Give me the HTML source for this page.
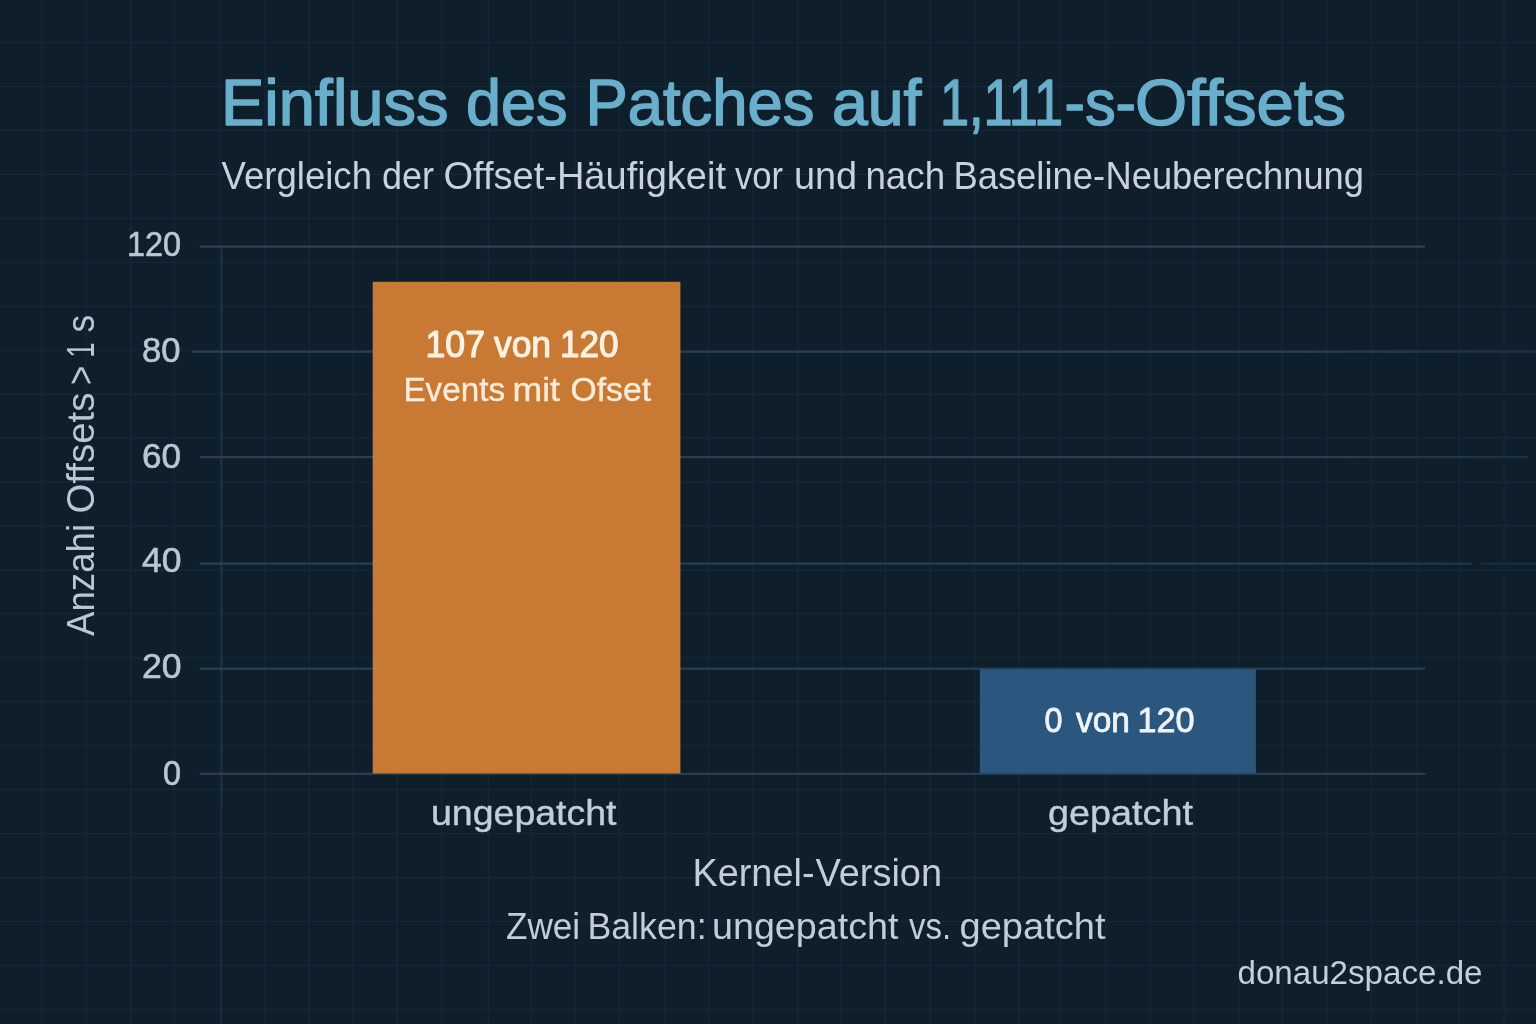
<!DOCTYPE html>
<html lang="de">
<head>
<meta charset="utf-8">
<title>Einfluss des Patches auf 1,111-s-Offsets</title>
<style>
  html, body { margin: 0; padding: 0; background: #0e1e2b; }
  body { width: 1536px; height: 1024px; overflow: hidden; }
  svg { display: block; will-change: transform; }
  text { font-family: "Liberation Sans", sans-serif; }
</style>
</head>
<body>
<svg width="1536" height="1024" viewBox="0 0 1536 1024">
  <!-- background + faint blueprint grid -->
  <rect id="bg" x="0" y="0" width="1536" height="1024" fill="#0e1e2b"/>
  <g id="bggrid" fill="#172939">
    <rect x="-3.2" y="0" width="1.2" height="1024"/>
    <rect x="41.1" y="0" width="1.2" height="1024"/>
    <rect x="85.4" y="0" width="1.2" height="1024"/>
    <rect x="130.1" y="0" width="1.2" height="1024"/>
    <rect x="173.4" y="0" width="1.2" height="1024"/>
    <rect x="219.4" y="0" width="1.2" height="1024"/>
    <rect x="264.4" y="0" width="1.2" height="1024"/>
    <rect x="308.7" y="0" width="1.2" height="1024"/>
    <rect x="352.7" y="0" width="1.2" height="1024"/>
    <rect x="396.7" y="0" width="1.2" height="1024"/>
    <rect x="441.1" y="0" width="1.2" height="1024"/>
    <rect x="487.7" y="0" width="1.2" height="1024"/>
    <rect x="530.7" y="0" width="1.2" height="1024"/>
    <rect x="574.1" y="0" width="1.2" height="1024"/>
    <rect x="618.7" y="0" width="1.2" height="1024"/>
    <rect x="664.7" y="0" width="1.2" height="1024"/>
    <rect x="708.1" y="0" width="1.2" height="1024"/>
    <rect x="752.1" y="0" width="1.2" height="1024"/>
    <rect x="797.1" y="0" width="1.2" height="1024"/>
    <rect x="840.7" y="0" width="1.2" height="1024"/>
    <rect x="884.7" y="0" width="1.2" height="1024"/>
    <rect x="929.7" y="0" width="1.2" height="1024"/>
    <rect x="974.1" y="0" width="1.2" height="1024"/>
    <rect x="1018.1" y="0" width="1.2" height="1024"/>
    <rect x="1059.4" y="0" width="1.2" height="1024"/>
    <rect x="1105.1" y="0" width="1.2" height="1024"/>
    <rect x="1149.4" y="0" width="1.2" height="1024"/>
    <rect x="1193.4" y="0" width="1.2" height="1024"/>
    <rect x="1238.4" y="0" width="1.2" height="1024"/>
    <rect x="1281.7" y="0" width="1.2" height="1024"/>
    <rect x="1326.1" y="0" width="1.2" height="1024"/>
    <rect x="1370.7" y="0" width="1.2" height="1024"/>
    <rect x="1416.7" y="0" width="1.2" height="1024"/>
    <rect x="1458.4" y="0" width="1.2" height="1024"/>
    <rect x="1503.4" y="0" width="1.2" height="1024"/>
    <rect x="0" y="-2.1" width="1536" height="1.2"/>
    <rect x="0" y="41.9" width="1536" height="1.2"/>
    <rect x="0" y="85.9" width="1536" height="1.2"/>
    <rect x="0" y="129.8" width="1536" height="1.2"/>
    <rect x="0" y="173.8" width="1536" height="1.2"/>
    <rect x="0" y="217.7" width="1536" height="1.2"/>
    <rect x="0" y="261.6" width="1536" height="1.2"/>
    <rect x="0" y="305.6" width="1536" height="1.2"/>
    <rect x="0" y="349.6" width="1536" height="1.2"/>
    <rect x="0" y="393.5" width="1536" height="1.2"/>
    <rect x="0" y="437.4" width="1536" height="1.2"/>
    <rect x="0" y="481.4" width="1536" height="1.2"/>
    <rect x="0" y="525.4" width="1536" height="1.2"/>
    <rect x="0" y="569.3" width="1536" height="1.2"/>
    <rect x="0" y="613.2" width="1536" height="1.2"/>
    <rect x="0" y="657.2" width="1536" height="1.2"/>
    <rect x="0" y="701.1" width="1536" height="1.2"/>
    <rect x="0" y="745.1" width="1536" height="1.2"/>
    <rect x="0" y="789.1" width="1536" height="1.2"/>
    <rect x="0" y="833.0" width="1536" height="1.2"/>
    <rect x="0" y="877.0" width="1536" height="1.2"/>
    <rect x="0" y="920.9" width="1536" height="1.2"/>
    <rect x="0" y="964.9" width="1536" height="1.2"/>
    <rect x="0" y="1008.8" width="1536" height="1.2"/>
  </g>

  <!-- y axis line -->
  <rect id="yaxis" x="220.8" y="246" width="1.6" height="560" fill="#20364a"/>
  <rect x="220.9" y="806" width="1.3" height="218" fill="#1b2f41"/>

  <!-- horizontal gridlines (120, 80, 60, 40, 20, 0) -->
  <defs>
    <linearGradient id="fadeR" gradientUnits="userSpaceOnUse" x1="1300" y1="0" x2="1536" y2="0">
      <stop offset="0" stop-color="#283f54"/>
      <stop offset="1" stop-color="#1c3043"/>
    </linearGradient>
  </defs>
  <g id="hgrid" fill="#283f54">
    <rect x="199.6" y="245.5" width="1225.4" height="2.2" fill="#2a435b"/>
    <rect x="192"   y="350.6" width="1344"   height="2.2" fill="url(#fadeR)"/>
    <rect x="200"   y="456.0" width="1327.5" height="2.2" fill="url(#fadeR)"/>
    <rect x="199.6" y="562.5" width="1272.4" height="2.2" fill="url(#fadeR)"/>
    <rect x="1481"  y="562.7" width="55"     height="1.8" fill="#1c3043"/>
    <rect x="199.6" y="667.6" width="1225.4" height="2.2"/>
    <rect x="199.6" y="772.7" width="1226"   height="2.2"/>
  </g>

  <!-- bars -->
  <rect id="bar1" x="372.7" y="281.8" width="307.7" height="491.6" fill="#c87a34"/>
  <rect id="bar2" x="979.8" y="669.3" width="276.1" height="103.9" fill="#2b577f"/>

  <!-- text (isolated group => grayscale antialiasing) -->
  <g id="alltext" opacity="0.999">
  <g id="g_title" font-size="64.4" fill="#6aafcb" stroke="#6aafcb" stroke-width="1.5" stroke-linejoin="round">
    <text id="title_0" x="220.92" y="125.0" textLength="227.60" lengthAdjust="spacingAndGlyphs">Einfluss</text>
    <text id="title_1" x="465.97" y="125.0" textLength="101.54" lengthAdjust="spacingAndGlyphs">des</text>
    <text id="title_2" x="585.42" y="125.0" textLength="229.11" lengthAdjust="spacingAndGlyphs">Patches</text>
    <text id="title_3" x="832.00" y="125.0" textLength="89.50" lengthAdjust="spacingAndGlyphs">auf</text>
    <text id="title_4" x="939.91" y="125.0" textLength="123.14" lengthAdjust="spacingAndGlyphs">1,111</text>
    <text id="title_5" x="1064.45" y="125.0" textLength="71.60" lengthAdjust="spacingAndGlyphs">-s-</text>
    <text id="title_6" x="1134.99" y="125.0" textLength="211.02" lengthAdjust="spacingAndGlyphs">Offsets</text>
  </g>
  <g id="g_sub" font-size="38.3" fill="#c9d3e0" >
    <text id="sub_0" x="221.50" y="189.2" textLength="150.50" lengthAdjust="spacingAndGlyphs">Vergleich</text>
    <text id="sub_1" x="382.01" y="189.2" textLength="52.00" lengthAdjust="spacingAndGlyphs">der</text>
    <text id="sub_2" x="443.50" y="189.2" textLength="282.51" lengthAdjust="spacingAndGlyphs">Offset-Häufigkeit</text>
    <text id="sub_3" x="735.00" y="189.2" textLength="48.00" lengthAdjust="spacingAndGlyphs">vor</text>
    <text id="sub_4" x="793.90" y="189.2" textLength="63.20" lengthAdjust="spacingAndGlyphs">und</text>
    <text id="sub_5" x="865.43" y="189.2" textLength="79.63" lengthAdjust="spacingAndGlyphs">nach</text>
    <text id="sub_6" x="953.44" y="189.2" textLength="151.59" lengthAdjust="spacingAndGlyphs">Baseline-</text>
    <text id="sub_7" x="1105.47" y="189.2" textLength="258.57" lengthAdjust="spacingAndGlyphs">Neuberechnung</text>
  </g>
  <g id="g_y120" font-size="35.6" fill="#bcc7d5" stroke="#bcc7d5" stroke-width="0.6" stroke-linejoin="round">
    <text id="y120_0" x="126.95" y="256.1" textLength="54.08" lengthAdjust="spacingAndGlyphs">120</text>
  </g>
  <g id="g_y80" font-size="35.6" fill="#bcc7d5" stroke="#bcc7d5" stroke-width="0.6" stroke-linejoin="round">
    <text id="y80_0" x="142.00" y="361.5" textLength="38.50" lengthAdjust="spacingAndGlyphs">80</text>
  </g>
  <g id="g_y60" font-size="35.6" fill="#bcc7d5" stroke="#bcc7d5" stroke-width="0.6" stroke-linejoin="round">
    <text id="y60_0" x="142.00" y="467.8" textLength="39.00" lengthAdjust="spacingAndGlyphs">60</text>
  </g>
  <g id="g_y40" font-size="35.6" fill="#bcc7d5" stroke="#bcc7d5" stroke-width="0.6" stroke-linejoin="round">
    <text id="y40_0" x="141.99" y="572.3" textLength="39.51" lengthAdjust="spacingAndGlyphs">40</text>
  </g>
  <g id="g_y20" font-size="35.6" fill="#bcc7d5" stroke="#bcc7d5" stroke-width="0.6" stroke-linejoin="round">
    <text id="y20_0" x="141.96" y="677.8" textLength="39.57" lengthAdjust="spacingAndGlyphs">20</text>
  </g>
  <g id="g_y0" font-size="35.6" fill="#bcc7d5" stroke="#bcc7d5" stroke-width="0.6" stroke-linejoin="round">
    <text id="y0_0" x="162.99" y="784.6" textLength="18.00" lengthAdjust="spacingAndGlyphs">0</text>
  </g>
  <g id="g_b1a" font-size="37.3" fill="#fdf2e2" stroke="#fdf2e2" stroke-width="1.2" stroke-linejoin="round">
    <text id="b1a_0" x="425.43" y="357.1" textLength="59.62" lengthAdjust="spacingAndGlyphs">107</text>
    <text id="b1a_1" x="493.99" y="357.1" textLength="57.01" lengthAdjust="spacingAndGlyphs">von</text>
    <text id="b1a_2" x="559.98" y="357.1" textLength="58.53" lengthAdjust="spacingAndGlyphs">120</text>
  </g>
  <g id="g_b1b" font-size="34" fill="#fbecd9" stroke="#fbecd9" stroke-width="0.4" stroke-linejoin="round">
    <text id="b1b_0" x="403.46" y="401.4" textLength="101.55" lengthAdjust="spacingAndGlyphs">Events</text>
    <text id="b1b_1" x="512.50" y="401.4" textLength="47.50" lengthAdjust="spacingAndGlyphs">mit</text>
    <text id="b1b_2" x="570.51" y="401.4" textLength="80.49" lengthAdjust="spacingAndGlyphs">Ofset</text>
  </g>
  <g id="g_b2" font-size="35.3" fill="#f1f5fa" stroke="#f1f5fa" stroke-width="0.8" stroke-linejoin="round">
    <text id="b2_0" x="1044.51" y="732.0" textLength="17.97" lengthAdjust="spacingAndGlyphs">0</text>
    <text id="b2_1" x="1075.99" y="732.0" textLength="53.99" lengthAdjust="spacingAndGlyphs">von</text>
    <text id="b2_2" x="1137.42" y="732.0" textLength="57.12" lengthAdjust="spacingAndGlyphs">120</text>
  </g>
  <g id="g_c1" font-size="35.5" fill="#c3cedb" stroke="#c3cedb" stroke-width="0.4" stroke-linejoin="round">
    <text id="c1_0" x="431.00" y="825.2" textLength="185.50" lengthAdjust="spacingAndGlyphs">ungepatcht</text>
  </g>
  <g id="g_c2" font-size="35.5" fill="#c3cedb" stroke="#c3cedb" stroke-width="0.4" stroke-linejoin="round">
    <text id="c2_0" x="1048.00" y="825.0" textLength="145.01" lengthAdjust="spacingAndGlyphs">gepatcht</text>
  </g>
  <g id="g_xlab" font-size="38.5" fill="#c3cddb" >
    <text id="xlab_0" x="692.41" y="886.0" textLength="122.14" lengthAdjust="spacingAndGlyphs">Kernel-</text>
    <text id="xlab_1" x="815.49" y="886.0" textLength="126.52" lengthAdjust="spacingAndGlyphs">Version</text>
  </g>
  <g id="g_cap" font-size="37" fill="#c3cddb" >
    <text id="cap_0" x="505.98" y="938.8" textLength="74.06" lengthAdjust="spacingAndGlyphs">Zwei</text>
    <text id="cap_1" x="587.40" y="938.8" textLength="119.24" lengthAdjust="spacingAndGlyphs">Balken:</text>
    <text id="cap_2" x="711.98" y="938.8" textLength="186.52" lengthAdjust="spacingAndGlyphs">ungepatcht</text>
    <text id="cap_3" x="908.99" y="938.8" textLength="42.07" lengthAdjust="spacingAndGlyphs">vs.</text>
    <text id="cap_4" x="959.50" y="938.8" textLength="146.00" lengthAdjust="spacingAndGlyphs">gepatcht</text>
  </g>
  <g id="g_wm" font-size="34" fill="#c5d0dd" >
    <text id="wm_0" x="1237.49" y="983.9" textLength="245.02" lengthAdjust="spacingAndGlyphs">donau2space.de</text>
  </g>
  <g id="g_ylab" font-size="38.5" fill="#bcc7d5"  transform="translate(0,1024) rotate(-90)">
    <text id="ylab_0" x="388.00" y="94.3" textLength="112.02" lengthAdjust="spacingAndGlyphs">Anzahi</text>
    <text id="ylab_1" x="510.49" y="94.3" textLength="121.03" lengthAdjust="spacingAndGlyphs">Offsets</text>
    <text id="ylab_2" x="638.89" y="94.3" textLength="19.26" lengthAdjust="spacingAndGlyphs">&gt;</text>
    <text id="ylab_3" x="666.28" y="94.3" textLength="15.36" lengthAdjust="spacingAndGlyphs">1</text>
    <text id="ylab_4" x="691.45" y="94.3" textLength="17.63" lengthAdjust="spacingAndGlyphs">s</text>
  </g>
  </g>
</svg>
</body>
</html>
